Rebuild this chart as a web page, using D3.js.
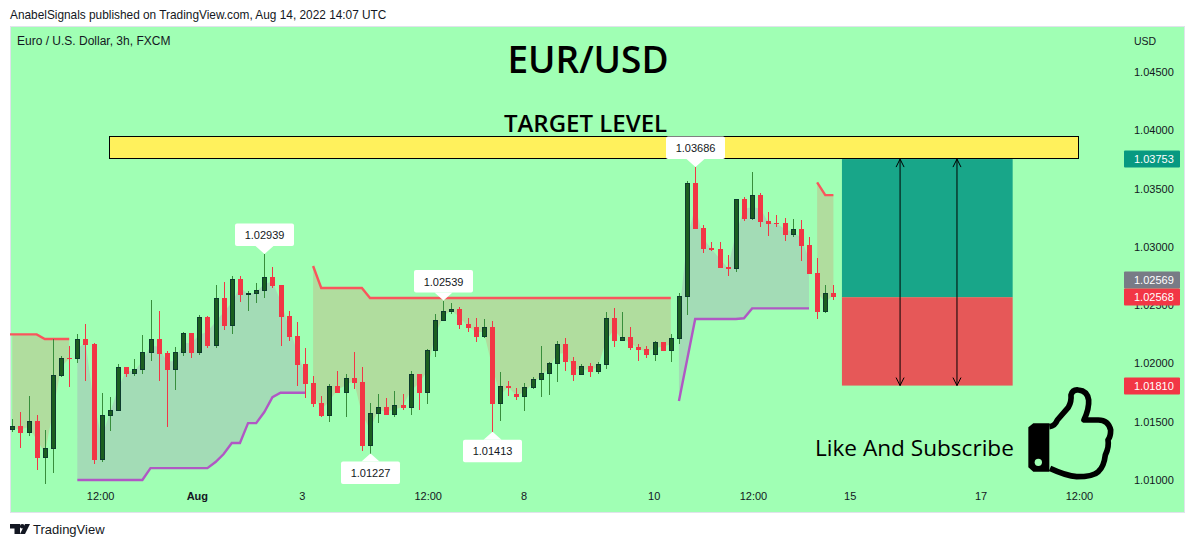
<!DOCTYPE html>
<html><head><meta charset="utf-8">
<script src="https://cdn.jsdelivr.net/npm/d3@7"></script>
<style>
html,body{margin:0;padding:0;background:#fff}
svg{display:block}
text{font-family:"Liberation Sans",sans-serif}
</style></head><body><div id="chart"></div>
<script>
const opens=[1.01428,1.01463,1.01403,1.01506,1.01188,1.01265,1.01892,1.02046,1.02037,1.02209,1.02166,1.01171,1.01548,1.01591,1.01969,1.01909,1.01943,1.02089,1.02209,1.02089,1.01943,1.02089,1.02260,1.02089,1.02398,1.02149,1.02561,1.02320,1.02723,1.02586,1.02595,1.02621,1.02741,1.02672,1.02406,1.02235,1.01994,1.01831,1.01660,1.01549,1.01806,1.01746,1.01875,1.01841,1.01292,1.01566,1.01626,1.01558,1.01643,1.01618,1.01909,1.01746,1.02106,1.02364,1.02441,1.02467,1.02338,1.02312,1.02227,1.02312,1.01652,1.01806,1.01738,1.01712,1.01789,1.01858,1.01909,1.01995,1.02167,1.02021,1.01901,1.01978,1.01926,1.01986,1.02390,1.02192,1.02227,1.02141,1.02124,1.02072,1.02184,1.02106,1.02209,1.02570,1.03547,1.03161,1.02990,1.02981,1.02827,1.02810,1.03410,1.03239,1.03444,1.03221,1.03204,1.03204,1.03101,1.03153,1.03016,1.02775,1.02441,1.02604];
const closes=[1.01463,1.01403,1.01506,1.01188,1.01274,1.01900,1.02046,1.02037,1.02209,1.02157,1.01171,1.01557,1.01600,1.01969,1.01909,1.01952,1.02097,1.02209,1.02080,1.01943,1.02097,1.02260,1.02089,1.02398,1.02149,1.02561,1.02320,1.02723,1.02586,1.02603,1.02629,1.02741,1.02663,1.02398,1.02226,1.01986,1.01823,1.01651,1.01549,1.01806,1.01746,1.01875,1.01832,1.01292,1.01575,1.01626,1.01558,1.01643,1.01618,1.01909,1.01746,1.02115,1.02372,1.02450,1.02467,1.02329,1.02304,1.02227,1.02312,1.01652,1.01806,1.01789,1.01712,1.01798,1.01866,1.01918,1.02004,1.02167,1.02012,1.01901,1.01978,1.01926,1.01995,1.02390,1.02192,1.02227,1.02132,1.02115,1.02072,1.02184,1.02106,1.02218,1.02578,1.03547,1.03153,1.02981,1.02973,1.02818,1.02810,1.03410,1.03239,1.03444,1.03213,1.03196,1.03196,1.03101,1.03153,1.03007,1.02767,1.02441,1.02604,1.02568];
const highs=[1.01523,1.01583,1.01720,1.01557,1.01428,1.02209,1.02063,1.02149,1.02252,1.02337,1.02175,1.01746,1.01711,1.01994,1.01969,1.02037,1.02243,1.02543,1.02449,1.02106,1.02140,1.02269,1.02260,1.02415,1.02406,1.02672,1.02698,1.02749,1.02749,1.02621,1.02689,1.02939,1.02826,1.02672,1.02449,1.02355,1.02132,1.01892,1.01721,1.01823,1.01935,1.01909,1.02098,1.01969,1.01660,1.01738,1.01703,1.01763,1.01738,1.01935,1.01909,1.02124,1.02424,1.02539,1.02518,1.02484,1.02390,1.02390,1.02381,1.02364,1.01926,1.01849,1.01789,1.01832,1.01883,1.02149,1.02012,1.02192,1.02218,1.02055,1.01995,1.02004,1.02012,1.02441,1.02475,1.02441,1.02312,1.02167,1.02149,1.02192,1.02184,1.02252,1.02604,1.03565,1.03686,1.03187,1.03041,1.03041,1.02930,1.03410,1.03427,1.03642,1.03462,1.03299,1.03273,1.03247,1.03239,1.03230,1.03084,1.02904,1.02672,1.02672];
const lows=[1.01411,1.01274,1.01377,1.01085,1.00965,1.01060,1.01883,1.01797,1.02003,1.01849,1.01137,1.01154,1.01420,1.01591,1.01883,1.01892,1.01909,1.02020,1.01849,1.01454,1.01771,1.02063,1.02046,1.02072,1.02132,1.02132,1.02286,1.02252,1.02526,1.02449,1.02518,1.02561,1.02646,1.02149,1.02192,1.01806,1.01703,1.01626,1.01540,1.01497,1.01746,1.01540,1.01781,1.01249,1.01227,1.01489,1.01558,1.01540,1.01600,1.01558,1.01600,1.01652,1.02055,1.02364,1.02424,1.02295,1.02269,1.02184,1.02218,1.01413,1.01506,1.01721,1.01686,1.01592,1.01781,1.01712,1.01729,1.01841,1.01935,1.01849,1.01901,1.01883,1.01909,1.01952,1.02141,1.02192,1.02115,1.02021,1.02046,1.02021,1.02106,1.02012,1.02167,1.02415,1.03153,1.02947,1.02964,1.02818,1.02750,1.02784,1.03221,1.03230,1.03170,1.03093,1.03170,1.03050,1.03084,1.02878,1.02767,1.02381,1.02432,1.02544];

// SuperTrend segments: first candle index and stop level per candle
const stopRedA=[1.02249,1.02249,1.02249,1.02249,1.02209,1.02209,1.02209,1.02209];
const stopPurpleB=[1.01000,1.01000,1.01000,1.01000,1.01000,1.01000,1.01000,1.01000,1.01000,1.01102,1.01102,1.01102,1.01102,1.01102,1.01102,1.01102,1.01102,1.01154,1.01223,1.01317,1.01317,1.01488,1.01488,1.01583,1.01711,1.01749,1.01749,1.01749,1.01749];
const stopRedC=[1.02836,1.02647,1.02647,1.02647,1.02647,1.02647,1.02647].concat(Array(38).fill(1.02561));
const stopPurpleD=[1.01678,1.02029,1.02381,1.02381,1.02381,1.02381,1.02381,1.02381,1.02387,1.02472,1.02472,1.02472,1.02472,1.02472,1.02472,1.02472,1.02472];
const stopRedE=[1.03553,1.03444,1.03444];
const segments=[
 {start:0,stops:stopRedA,kind:"red"},
 {start:8,stops:stopPurpleB,kind:"purple"},
 {start:37,stops:stopRedC,kind:"red"},
 {start:82,stops:stopPurpleD,kind:"purple"},
 {start:99,stops:stopRedE,kind:"red"}
];

const priceTicks=[1.045,1.04,1.035,1.03,1.025,1.02,1.015,1.01];
const timeTickPos=[10.8,22.7,35.6,51.1,62.9,78.9,91.1,103,119.1,131.2];
const timeTickLabels=["12:00","Aug","3","12:00","8","10","12:00","15","17","12:00"];
const calloutIndex=[31,53,84];
const calloutLowIndex=[44,59];
const targetBox={i0:11.9,i1:131.25,p0:1.0395,p1:1.03761};
const longBox={i0:102.05,i1:123.05,top:1.03753,mid:1.02568,bottom:1.0181};
const arrowIdx=[109.2,116.2];
const priceTags=[[1.03753,"#089981"],[1.02569,"#787b86"],[1.02568,"#f23645"],[1.0181,"#f23645"]];

const W=1194,H=547;
const x=d3.scaleLinear().domain([0,101]).range([12.3,833.4]);
const y=d3.scaleLinear().domain([1.01,1.045]).range([480,72]);
const fmt=d3.format(".5f");
const svg=d3.select("#chart").append("svg").attr("width",W).attr("height",H);

const BG="#a0ffb4",TXT="#131722";
svg.append("rect").attr("x",10.5).attr("y",26.5).attr("width",1174).attr("height",486).attr("fill",BG).attr("stroke","#e0e3eb");
svg.append("text").attr("x",10).attr("y",19).attr("font-size",11.85).attr("fill",TXT).text("AnabelSignals published on TradingView.com, Aug 14, 2022 14:07 UTC");
svg.append("text").attr("x",17).attr("y",45).attr("font-size",12).attr("fill",TXT).text("Euro / U.S. Dollar, 3h, FXCM");
svg.append("text").attr("x",1134).attr("y",44.5).attr("font-size",10.5).attr("fill",TXT).text("USD");

// fills + stop lines
segments.forEach(s=>{
  const pts=s.stops.map((v,k)=>({i:s.start+k,v,m:(opens[s.start+k]+closes[s.start+k])/2}));
  svg.append("path").datum(pts).attr("fill",s.kind==="red"?"#b0dd9e":"#a3dcb6")
    .attr("d",d3.area().x(d=>x(d.i)).y0(d=>y(d.v)).y1(d=>y(d.m)));
});
segments.forEach(s=>{
  const pts=s.stops.map((v,k)=>({i:s.start+k,v}));
  if(s.start===0) pts.unshift({i:-0.28,v:s.stops[0]});
  svg.append("path").datum(pts).attr("fill","none")
    .attr("stroke",s.kind==="red"?"#f9565c":"#b058c4").attr("stroke-width",2.4)
    .attr("d",d3.line().x(d=>x(d.i)).y(d=>y(d.v)));
});

// candles
const px=i=>Math.round(x(i));
const c=svg.append("g").attr("shape-rendering","crispEdges");
opens.forEach((o,i)=>{
  const cl=closes[i],up=cl>=o;
  c.append("line").attr("x1",px(i)+.5).attr("x2",px(i)+.5).attr("y1",y(highs[i])).attr("y2",y(lows[i]))
    .attr("stroke",up?"#388e3c":"#f23645");
  const t=Math.round(y(Math.max(o,cl))),b=Math.round(y(Math.min(o,cl)));
  if(up){
    c.append("rect").attr("x",px(i)-1.5).attr("y",t+.5).attr("width",4).attr("height",Math.max(b-t-1,1))
      .attr("fill","#1b5e20").attr("stroke","#0d3b2e");
  }else{
    c.append("rect").attr("x",px(i)-2).attr("y",t).attr("width",5).attr("height",Math.max(b-t,1)).attr("fill","#f23645");
  }
});

// target band
svg.append("rect").attr("x",Math.round(x(targetBox.i0))+.5).attr("y",Math.round(y(targetBox.p0))+.5).attr("width",Math.round(x(targetBox.i1)-x(targetBox.i0))-1)
  .attr("height",Math.round(y(targetBox.p1)-y(targetBox.p0))).attr("fill","#fff15c").attr("stroke","#000");
// long position
svg.append("rect").attr("x",x(longBox.i0)).attr("y",y(longBox.top)).attr("width",x(longBox.i1)-x(longBox.i0))
  .attr("height",y(longBox.mid)-y(longBox.top)).attr("fill","#18a689");
svg.append("rect").attr("x",x(longBox.i0)).attr("y",y(longBox.mid)).attr("width",x(longBox.i1)-x(longBox.i0))
  .attr("height",y(longBox.bottom)-y(longBox.mid)).attr("fill","#e65858");
const defs=svg.append("defs");
defs.append("marker").attr("id","ah").attr("viewBox","0 0 10 10").attr("refX",9).attr("refY",5)
  .attr("markerUnits","userSpaceOnUse").attr("markerWidth",10).attr("markerHeight",10).attr("orient","auto-start-reverse")
  .append("path").attr("d","M1,1 L9,5 L1,9").attr("fill","none").attr("stroke","#000");
arrowIdx.forEach(i=>{
  svg.append("line").attr("x1",x(i)).attr("x2",x(i)).attr("y1",y(longBox.top)).attr("y2",y(longBox.bottom))
    .attr("stroke","#000").attr("marker-start","url(#ah)").attr("marker-end","url(#ah)");
});

// axes
const yAxis=d3.axisRight(y).tickValues(priceTicks).tickFormat(fmt).tickSize(0).tickPadding(0);
const gy=svg.append("g").attr("transform","translate(1134,0)").call(yAxis);
gy.select(".domain").remove();
gy.selectAll("text").attr("font-size",11).attr("fill",TXT).style("font-family",'"Liberation Sans",sans-serif');
const xAxis=d3.axisBottom(x).tickValues(timeTickPos).tickFormat((d,i)=>timeTickLabels[i]).tickSize(0).tickPadding(0);
const gx=svg.append("g").attr("transform","translate(0,492)").call(xAxis);
gx.select(".domain").remove();
gx.selectAll("text").attr("font-size",11).attr("fill",TXT).style("font-family",'"Liberation Sans",sans-serif')
  .style("font-weight",(d,i)=>timeTickLabels[i]==="Aug"?"bold":"normal");

// price tags: the scale's position, with the tag just above stacked clear of its neighbour
priceTags.forEach(([p,col],k)=>{
  let ty=Math.round(y(p));
  const below=priceTags[k+1];
  if(below && Math.abs(y(below[0])-y(p))<17) ty=Math.round(y(below[0]))-17;
  const g=svg.append("g").attr("transform",`translate(1124,${ty})`);
  g.append("rect").attr("x",0).attr("y",-8.5).attr("width",56).attr("height",17).attr("fill",col).attr("rx",1);
  g.append("text").attr("x",10).attr("y",4).attr("font-size",11).attr("fill","#fff").text(fmt(p));
});

// high/low callouts
function callout(i,val,above){
  const tx=px(i)+.5,ty=y(val),s=above?-1:1;
  const g=svg.append("g").attr("transform",`translate(${tx},${ty})`);
  g.append("rect").attr("x",-29.5).attr("y",above?-30.5:8).attr("width",59).attr("height",22.5).attr("rx",2).attr("fill","#fff");
  g.append("path").attr("d",`M-9,${s*8} L0,0 L9,${s*8}Z`).attr("fill","#fff");
  g.append("text").attr("text-anchor","middle").attr("y",above?-15:23.5).attr("font-size",11).attr("fill",TXT).text(fmt(val));
}
calloutIndex.forEach(i=>callout(i,highs[i],true));
calloutLowIndex.forEach(i=>callout(i,lows[i],false));

// text annotations
svg.append("text").attr("x",588).attr("y",73).attr("text-anchor","middle").attr("font-size",37).attr("font-weight",600).attr("fill","#000").style("font-family",'"Open Sans",sans-serif').text("EUR/USD");
svg.append("text").attr("x",585.5).attr("y",132).attr("text-anchor","middle").attr("font-size",24).attr("font-weight",600).attr("fill","#000").style("font-family",'"Open Sans",sans-serif').text("TARGET LEVEL");
svg.append("text").attr("x",815).attr("y",456).attr("font-size",22.6).attr("fill","#000").style("font-family",'"Open Sans",sans-serif').text("Like And Subscribe");

// thumb icon
const th=svg.append("g").attr("transform","translate(1000,370) scale(0.3333)");
th.append("path").attr("d","M100,160 H148 V305 H100 L85,292 V172 Z").attr("fill","#000");
th.append("circle").attr("cx",115).attr("cy",277).attr("r",11).attr("fill",BG);
th.append("path").attr("fill","none").attr("stroke","#000").attr("stroke-width",17).attr("stroke-linejoin","round")
  .attr("d","M148,170 Q165,168 172,150 L205,112 Q215,95 213,75 Q218,58 235,60 Q262,62 266,90 Q268,115 252,150 H295 Q325,150 332,180 Q332,200 324,210 Q328,230 316,255 Q312,290 295,305 Q280,320 230,320 Q200,318 150,295");

// footer logo
const lg=svg.append("g").attr("transform","translate(10,524)");
lg.append("path").attr("d","M0,0 H10 V10 H4.5 V4.5 H0 Z").attr("fill","#131722");
lg.append("circle").attr("cx",12.2).attr("cy",2.3).attr("r",2.3).attr("fill","#131722");
lg.append("path").attr("d","M15,0 H20 L15,10 H10 Z").attr("fill","#131722");
svg.append("text").attr("x",33).attr("y",534).attr("font-size",13).attr("fill",TXT).text("TradingView");
</script></body></html>
